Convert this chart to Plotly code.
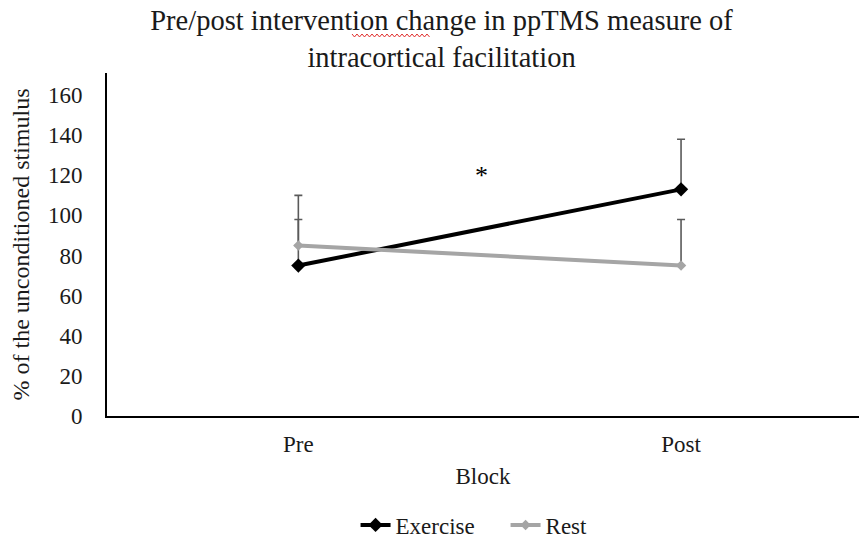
import plotly.graph_objects as go

blocks = ["Pre", "Post"]
exercise = [75, 113]
exercise_err = [35, 25]
rest = [85, 75]
rest_err = [13, 23]
y_ticks = [0, 20, 40, 60, 80, 100, 120, 140, 160]

FONT = "Liberation Serif"
TXT = "#1a1a1a"

fig = go.Figure()
fig.add_trace(go.Scatter(
    x=blocks, y=exercise, name="Exercise", mode="lines+markers",
    line=dict(color="black", width=4),
    marker=dict(symbol="diamond", size=11, color="black"),
    error_y=dict(type="data", array=exercise_err, arrayminus=[0, 0],
                 color="#5a5a5a", thickness=1.6, width=4),
))
fig.add_trace(go.Scatter(
    x=blocks, y=rest, name="Rest", mode="lines+markers",
    line=dict(color="#a5a5a5", width=4),
    marker=dict(symbol="diamond", size=8, color="#a5a5a5"),
    error_y=dict(type="data", array=rest_err, arrayminus=[0, 0],
                 color="#5a5a5a", thickness=1.6, width=4),
))

fig.add_annotation(x=0.478, y=120, xref="x", yref="y", text="*",
                   showarrow=False, font=dict(family=FONT, size=26, color="black"))

# spell-check squiggle under "ppTMS" in the title (decoration, in pixel terms of the page)
L, T, W, H = 107, 73, 752, 343
def px(xp, yp):
    return (xp - L) / W, (T + H - yp) / H
pts = []
xp = 352
i = 0
while xp <= 431:
    yp = 34 if i % 2 == 0 else 37
    pts.append(px(xp, yp))
    xp += 2.5
    i += 1
path = "M " + " L ".join(f"{a:.4f},{b:.4f}" for a, b in pts)
fig.add_shape(type="path", path=path, xref="paper", yref="paper",
              line=dict(color="#e0312f", width=1))

fig.update_layout(
    width=859, height=542,
    paper_bgcolor="white", plot_bgcolor="white",
    margin=dict(l=L, r=0, t=T, b=542 - T - H),
    font=dict(family=FONT, size=23, color=TXT),
    title=dict(text="Pre/post intervention change in ppTMS measure of<br>intracortical facilitation",
               x=0.514, xanchor="center", xref="container",
               y=1 - 30 / 542, yanchor="middle", yref="container",
               font=dict(family=FONT, size=28.5, color=TXT)),
    xaxis=dict(type="category", range=[-0.5, 1.465], showline=True, linecolor="black",
               linewidth=2, showgrid=False, ticks="", zeroline=False,
               ticklabelstandoff=6,
               title=dict(text="Block", standoff=12, font=dict(size=23)),
               tickfont=dict(size=23)),
    yaxis=dict(range=[0, 171], tickvals=y_ticks, showline=True, linecolor="black",
               linewidth=2, showgrid=False, ticks="", zeroline=False,
               ticklabelstandoff=18,
               title=dict(text="% of the unconditioned stimulus", standoff=12, font=dict(size=24)),
               tickfont=dict(size=23)),
    legend=dict(orientation="h", x=0.53, xanchor="center",
                y=1 - 525 / 542, yref="container",
                yanchor="middle", font=dict(size=23), entrywidth=105,
                entrywidthmode="pixels"),
    showlegend=True,
)

fig.write_html("out.html", post_script="document.body.style.margin='0';",
               config={"displayModeBar": False})
